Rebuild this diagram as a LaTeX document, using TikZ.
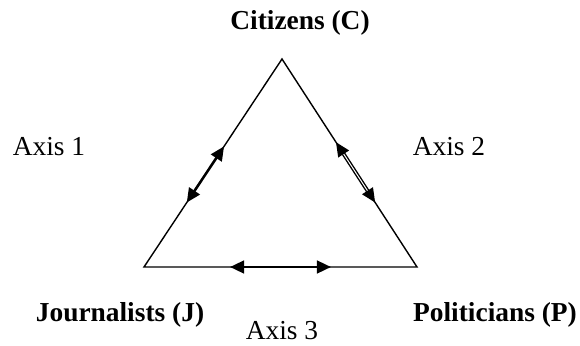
\documentclass[tikz,border=0pt]{standalone}
\usepackage{fontspec}
\setmainfont{Liberation Serif}
\usepackage{tikz}
\usetikzlibrary{arrows.meta,
                calc,
                positioning}

\tikzset{axisarrow/.style={{Triangle[length=10pt,width=9pt]}-{Triangle[length=10pt,width=9pt]},line width=1.8pt},
         actor/.style={font=\fontsize{19.5}{22}\selectfont\bfseries},
         axislabel/.style={font=\fontsize{19.5}{22}\selectfont}}

\begin{document}
\begin{tikzpicture}
\useasboundingbox (0,0) rectangle (14.5,8.625);
% corners of the triangle
\coordinate (C) at (7.05,7.15);
\coordinate (J) at (3.6,1.95);
\coordinate (P) at (10.425,1.95);
\draw[line width=1pt] (J) -- (C) -- (P) -- cycle;

% axes
\coordinate (a1s) at ($(J)!0.31!(C)$);
\coordinate (a1e) at ($(J)!0.58!(C)$);
\coordinate (a2s) at ($(C)!0.40!(P)$);
\coordinate (a2e) at ($(C)!0.69!(P)$);
\coordinate (a3s) at ($(J)!0.315!(P)$);
\coordinate (a3e) at ($(J)!0.685!(P)$);
\draw[axisarrow] (a1s) -- (a1e);
\draw[axisarrow,double,double distance=0.7pt,line width=1pt] (a2s) -- (a2e);
\draw[axisarrow] (a3s) -- (a3e);

\node[actor] (cit) at (7.5,8.05) {Citizens (C)};
\node[actor] (jou) at (3.0,0.75) {Journalists (J)};
\node[actor] (pol) at (12.375,0.75) {Politicians (P)};

\foreach \n/\x/\y/\t in {ax1/1.225/4.95/Axis 1, ax2/11.225/4.95/Axis 2, ax3/7.05/0.36/Axis 3}
  \node[axislabel] (\n) at (\x,\y) {\t};
\end{tikzpicture}
\end{document}
